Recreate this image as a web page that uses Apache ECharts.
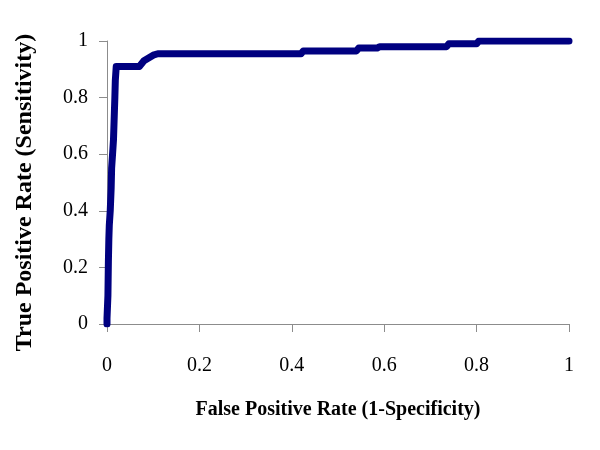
<!DOCTYPE html>
<html>
<head>
<meta charset="utf-8">
<script src="https://cdn.jsdelivr.net/npm/echarts@6/dist/echarts.min.js"></script>
<style>html,body{margin:0;padding:0;background:#fff;}#c{width:600px;height:450px;}</style>
</head>
<body>
<div id="c"></div>
<script>
const fpr = [0, 0, 0.002, 0.003, 0.004, 0.005, 0.007, 0.009, 0.010, 0.012, 0.014, 0.016, 0.017, 0.018, 0.020,
  0.070, 0.080, 0.090, 0.100, 0.110, 0.420, 0.425, 0.540, 0.545, 0.585, 0.590, 0.735, 0.740, 0.800, 0.805, 1.0];
const tpr = [0, 0.02, 0.10, 0.22, 0.30, 0.35, 0.40, 0.48, 0.55, 0.60, 0.65, 0.75, 0.80, 0.86, 0.91,
  0.91, 0.93, 0.94, 0.95, 0.955, 0.955, 0.965, 0.965, 0.975, 0.975, 0.98, 0.98, 0.99, 0.99, 1.0, 1.0];
const xTitle = 'False Positive Rate (1-Specificity)';
const yTitle = 'True Positive Rate (Sensitivity)';

const chart = echarts.init(document.getElementById('c'), null, {renderer: 'canvas'});
const font = 'Liberation Serif, Times New Roman, serif';
const axisCommon = {
  min: 0, max: 1, interval: 0.2,
  axisLine: {show: true, lineStyle: {color: '#8c8c8c', width: 1}},
  axisTick: {show: true, inside: false, length: 8, lineStyle: {color: '#8c8c8c'}},
  splitLine: {show: false},
  axisLabel: {color: '#000', fontFamily: font, fontSize: 20, formatter: v => String(+v.toFixed(1))},
  nameLocation: 'middle',
  nameTextStyle: {color: '#000', fontFamily: font, fontWeight: 'bold', fontSize: 20}
};
chart.setOption({
  animation: false,
  grid: {left: 107, right: 31, top: 41, bottom: 126},
  xAxis: Object.assign({}, axisCommon, {type: 'value', name: xTitle, nameGap: 76,
    axisLabel: Object.assign({}, axisCommon.axisLabel, {margin: 32})}),
  yAxis: Object.assign({}, axisCommon, {type: 'value', name: yTitle, nameGap: 70,
    axisLabel: Object.assign({}, axisCommon.axisLabel, {margin: 19}),
    nameTextStyle: Object.assign({}, axisCommon.nameTextStyle, {fontSize: 24, padding: [0, 20, 0, 0]})}),
  series: [{
    type: 'line',
    data: fpr.map((x, i) => [x, tpr[i]]),
    showSymbol: false,
    lineStyle: {color: '#000080', width: 7, cap: 'round', join: 'round'},
    itemStyle: {color: '#000080'}
  }]
});
</script>
</body>
</html>
